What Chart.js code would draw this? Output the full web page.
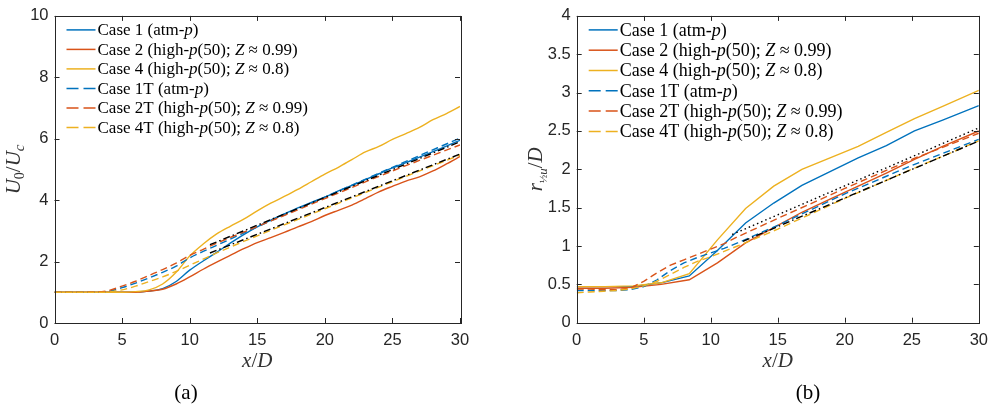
<!DOCTYPE html>
<html>
<head>
<meta charset="utf-8">
<script src="https://cdn.jsdelivr.net/npm/chart.js@4.4.0/dist/chart.umd.min.js"></script>
<style>
  body { margin: 0; background: #fff; width: 996px; height: 406px; overflow: hidden; position: relative; }
  canvas { position: absolute; top: 0; }
  #chartA { left: 0; }
  #chartB { left: 498px; }
</style>
</head>
<body>
<canvas id="chartA" width="498" height="406"></canvas>
<canvas id="chartB" width="498" height="406"></canvas>
<script>
const caseLabels = [
  'Case 1 (atm-p)',
  'Case 2 (high-p(50); Z ≈ 0.99)',
  'Case 4 (high-p(50); Z ≈ 0.8)',
  'Case 1T (atm-p)',
  'Case 2T (high-p(50); Z ≈ 0.99)',
  'Case 4T (high-p(50); Z ≈ 0.8)'
];
const xTicks = [0, 5, 10, 15, 20, 25, 30];
const uTicks = [0, 2, 4, 6, 8, 10];
const rTicks = [0, 0.5, 1, 1.5, 2, 2.5, 3, 3.5, 4];

// (a) centreline velocity decay U0/Uc
const xSolidA = [0, 2, 4, 5, 6, 7, 8, 9, 10, 11, 12, 13, 14, 15, 16, 17, 18, 19, 20, 21, 22, 23, 24, 25, 26, 27, 28, 29, 30];
const uCase1 = [1, 1, 1, 1, 1.01, 1.04, 1.12, 1.35, 1.72, 2.02, 2.3, 2.6, 2.88, 3.13, 3.35, 3.55, 3.75, 3.93, 4.1, 4.3, 4.48, 4.67, 4.86, 5.05, 5.22, 5.4, 5.58, 5.76, 5.95];
const uCase2 = [1, 1, 1, 1, 1, 1.04, 1.1, 1.27, 1.5, 1.75, 1.98, 2.2, 2.42, 2.62, 2.78, 2.95, 3.13, 3.3, 3.5, 3.67, 3.84, 4.05, 4.27, 4.45, 4.62, 4.76, 4.95, 5.18, 5.42];
const uCase4 = [1, 1, 1, 1, 1.02, 1.08, 1.27, 1.65, 2.18, 2.57, 2.9, 3.15, 3.38, 3.65, 3.9, 4.12, 4.35, 4.6, 4.85, 5.07, 5.32, 5.57, 5.75, 5.98, 6.17, 6.37, 6.62, 6.82, 7.05];
const xDashA = [0, 3.5, 5, 6, 7, 8, 9, 10, 11, 12, 15, 20, 25, 30];
const uCase1T = [1, 1, 1.15, 1.3, 1.47, 1.65, 1.85, 2.12, 2.33, 2.53, 3.13, 4.1, 5.07, 6.02];
const uCase2T = [1, 1.02, 1.2, 1.36, 1.55, 1.74, 1.95, 2.2, 2.4, 2.6, 3.14, 4.05, 4.95, 5.8];
const uCase4T = [1, 1, 1.08, 1.2, 1.35, 1.5, 1.68, 1.88, 2.08, 2.28, 2.84, 3.72, 4.6, 5.47];
const xFitA1 = [11.5, 30], uFit1 = [2.55, 5.9];
const xFitA2 = [11.5, 30], uFit2 = [2.28, 5.5];

// (b) jet half-width r1/2u / D
const xSolidB = [0, 2.1, 4.2, 6.3, 8.4, 10.5, 12.6, 14.7, 16.8, 18.9, 21, 23.1, 25.2, 27.3, 30];
const rCase1 = [0.47, 0.47, 0.47, 0.52, 0.61, 0.94, 1.3, 1.56, 1.79, 1.97, 2.15, 2.31, 2.5, 2.64, 2.83];
const rCase2 = [0.45, 0.45, 0.46, 0.5, 0.56, 0.78, 1.04, 1.24, 1.44, 1.61, 1.78, 1.95, 2.13, 2.3, 2.5];
const rCase4 = [0.47, 0.47, 0.48, 0.52, 0.64, 1.08, 1.49, 1.78, 2.0, 2.15, 2.3, 2.48, 2.66, 2.82, 3.03];
const xDashB = [0, 1, 2, 3, 4, 5, 6, 7, 8, 9, 10, 11, 12, 15, 20, 25, 30];
const rCase1T = [0.42, 0.42, 0.42, 0.42, 0.43, 0.47, 0.56, 0.68, 0.78, 0.85, 0.91, 0.97, 1.04, 1.27, 1.68, 2.05, 2.39];
const rCase2T = [0.44, 0.44, 0.43, 0.43, 0.45, 0.54, 0.65, 0.75, 0.82, 0.89, 0.96, 1.03, 1.12, 1.36, 1.75, 2.13, 2.47];
const rCase4T = [0.39, 0.4, 0.41, 0.42, 0.44, 0.48, 0.54, 0.63, 0.72, 0.8, 0.86, 0.93, 1.0, 1.22, 1.62, 2.0, 2.37];
const xFitB1 = [11.6, 30], rFit1 = [1.15, 2.54];
const xFitB2 = [12.4, 30], rFit2 = [1.06, 2.37];

const BLUE = '#0072BD', ORANGE = '#D95319', YELLOW = '#EDB120', INK = '#262626';
const DASH = [7, 4], DASHDOT = [7, 3, 1.5, 3], DOT = [1.5, 3];
const SERIF = '"Liberation Serif", "DejaVu Serif", serif';

Chart.defaults.font.family = '"Liberation Sans", Arial, sans-serif';
Chart.defaults.font.size = 16;
Chart.defaults.color = INK;

const pts = (xs, ys) => xs.map((x, i) => ({ x, y: ys[i] }));

function series(label, xs, ys, color, dash, smooth) {
  return {
    label, data: pts(xs, ys), borderColor: color, borderWidth: 1.4,
    borderDash: dash, pointRadius: 0, fill: false,
    cubicInterpolationMode: smooth ? 'monotone' : 'default', tension: 0
  };
}

// draw a string, italic for the math symbols p and Z
function richText(ctx, text, x, y, size) {
  const runs = [];
  for (let i = 0; i < text.length; i++) {
    const ch = text[i];
    const it = (ch === 'p' && text[i - 1] === '-') || ch === 'Z';
    if (runs.length && runs[runs.length - 1].it === it) runs[runs.length - 1].t += ch;
    else runs.push({ t: ch, it });
  }
  let cx = x;
  for (const r of runs) {
    ctx.font = (r.it ? 'italic ' : '') + size + 'px ' + SERIF;
    ctx.fillText(r.t, cx, y);
    cx += ctx.measureText(r.t).width;
  }
}

// pieces: [text, size, italic, dy]
function mathText(ctx, pieces, x, y, align) {
  let w = 0;
  for (const p of pieces) { ctx.font = (p[2] ? 'italic ' : '') + p[1] + 'px ' + SERIF; w += ctx.measureText(p[0]).width; }
  let cx = align === 'center' ? x - w / 2 : x;
  for (const p of pieces) {
    ctx.font = (p[2] ? 'italic ' : '') + p[1] + 'px ' + SERIF;
    ctx.fillText(p[0], cx, y + (p[3] || 0));
    cx += ctx.measureText(p[0]).width;
  }
}

const decor = {
  id: 'decor',
  afterDraw(chart, args, o) {
    const { ctx, chartArea: a, scales } = chart;
    ctx.save();
    ctx.strokeStyle = INK;
    ctx.lineWidth = 1;
    ctx.setLineDash([]);
    ctx.strokeRect(Math.round(a.left) + 0.5, Math.round(a.top) + 0.5, Math.round(a.right - a.left), Math.round(a.bottom - a.top));
    ctx.beginPath();
    for (const t of scales.x.ticks) {
      const px = Math.round(scales.x.getPixelForValue(t.value)) + 0.5;
      ctx.moveTo(px, a.bottom); ctx.lineTo(px, a.bottom - 5);
      ctx.moveTo(px, a.top); ctx.lineTo(px, a.top + 5);
    }
    for (const t of scales.y.ticks) {
      const py = Math.round(scales.y.getPixelForValue(t.value)) + 0.5;
      ctx.moveTo(a.left, py); ctx.lineTo(a.left + 5, py);
      ctx.moveTo(a.right, py); ctx.lineTo(a.right - 5, py);
    }
    ctx.stroke();

    // legend
    ctx.fillStyle = '#000';
    ctx.textBaseline = 'middle';
    ctx.textAlign = 'left';
    let row = 0;
    chart.data.datasets.forEach(ds => {
      if (!ds.inLegend) return;
      const y = a.top + o.legendTop + row * o.legendStep;
      const x0 = a.left + o.legendLeft;
      ctx.strokeStyle = ds.borderColor;
      ctx.lineWidth = 1.5;
      ctx.setLineDash(ds.borderDash.length ? [12, 5] : []);
      ctx.beginPath(); ctx.moveTo(x0, y); ctx.lineTo(x0 + 29, y); ctx.stroke();
      richText(ctx, ds.label, x0 + 31, y + 1, o.legendSize);
      row++;
    });
    ctx.setLineDash([]);

    // axis titles and caption
    ctx.fillStyle = '#333';
    ctx.textBaseline = 'alphabetic';
    const cx = (a.left + a.right) / 2;
    mathText(ctx, [['x', 21, true], ['/', 21, false], ['D', 21, true]], cx, a.bottom + 44, 'center');
    ctx.save();
    ctx.translate(a.left - 35, (a.top + a.bottom) / 2);
    ctx.rotate(-Math.PI / 2);
    mathText(ctx, o.yTitle, 0, 0, 'center');
    ctx.restore();
    ctx.fillStyle = '#000';
    ctx.font = '21px ' + SERIF;
    ctx.textAlign = 'center';
    ctx.fillText(o.caption, o.captionX, 399);
    ctx.restore();
  }
};

function makeChart(id, datasets, yMin, yMax, yTickVals, geom, decorOpts) {
  return new Chart(document.getElementById(id), {
    type: 'line',
    data: { datasets },
    options: {
      responsive: false,
      animation: false,
      layout: { padding: { top: geom.top, right: geom.right, left: 0, bottom: 0 } },
      plugins: { legend: { display: false }, tooltip: { enabled: false }, decor: decorOpts },
      scales: {
        x: {
          type: 'linear', min: 0, max: 30,
          afterBuildTicks: s => { s.ticks = xTicks.map(v => ({ value: v })); },
          afterFit: s => { s.height = geom.bottom; },
          grid: { display: false, drawTicks: false }, border: { display: false },
          ticks: { padding: 8, maxRotation: 0, font: { size: 16.5 }, callback: v => String(v) }
        },
        y: {
          type: 'linear', min: yMin, max: yMax,
          afterBuildTicks: s => { s.ticks = yTickVals.map(v => ({ value: v })); },
          afterFit: s => { s.width = geom.left; },
          grid: { display: false, drawTicks: false }, border: { display: false },
          ticks: { padding: 6, font: { size: 16.5 }, callback: v => String(v) }
        }
      }
    },
    plugins: [decor]
  });
}

function withOrder(list) {
  list.forEach((d, i) => { d.order = list.length - i; });
  return list;
}

const dsA = withOrder([
  Object.assign(series(caseLabels[0], xSolidA, uCase1, BLUE, [], true), { inLegend: true }),
  Object.assign(series(caseLabels[1], xSolidA, uCase2, ORANGE, [], true), { inLegend: true }),
  Object.assign(series(caseLabels[2], xSolidA, uCase4, YELLOW, [], true), { inLegend: true }),
  Object.assign(series(caseLabels[3], xDashA, uCase1T, BLUE, DASH, true), { inLegend: true }),
  Object.assign(series(caseLabels[4], xDashA, uCase2T, ORANGE, DASH, true), { inLegend: true }),
  Object.assign(series(caseLabels[5], xDashA, uCase4T, YELLOW, DASH, true), { inLegend: true }),
  series('fit 1', xFitA1, uFit1, '#000', DASHDOT, false),
  series('fit 2', xFitA2, uFit2, '#000', DASHDOT, false)
]);

const dsB = withOrder([
  Object.assign(series(caseLabels[0], xSolidB, rCase1, BLUE, [], false), { inLegend: true }),
  Object.assign(series(caseLabels[1], xSolidB, rCase2, ORANGE, [], false), { inLegend: true }),
  Object.assign(series(caseLabels[2], xSolidB, rCase4, YELLOW, [], false), { inLegend: true }),
  Object.assign(series(caseLabels[3], xDashB, rCase1T, BLUE, DASH, false), { inLegend: true }),
  Object.assign(series(caseLabels[4], xDashB, rCase2T, ORANGE, DASH, false), { inLegend: true }),
  Object.assign(series(caseLabels[5], xDashB, rCase4T, YELLOW, DASH, false), { inLegend: true }),
  series('fit 1', xFitB1, rFit1, '#000', DOT, false),
  series('fit 2', xFitB2, rFit2, '#000', DASHDOT, false)
]);

makeChart('chartA', dsA, 0, 10, uTicks,
  { left: 54.5, right: 38, top: 10, bottom: 83 },
  {
    legendLeft: 12, legendTop: 14, legendStep: 19.5, legendSize: 17,
    caption: '(a)', captionX: 186,
    yTitle: [['U', 21, true], ['0', 14, false, 4], ['/', 21, false], ['U', 21, true], ['c', 15, true, 4]]
  });

makeChart('chartB', dsB, 0, 4, rTicks,
  { left: 78.7, right: 15, top: 10.7, bottom: 83.3 },
  {
    legendLeft: 12, legendTop: 14, legendStep: 20.3, legendSize: 18,
    caption: '(b)', captionX: 310,
    yTitle: [['r', 21, true], ['½', 11, false, 5], ['u', 13, true, 5], ['/', 21, false], ['D', 21, true]]
  });
</script>
</body>
</html>
